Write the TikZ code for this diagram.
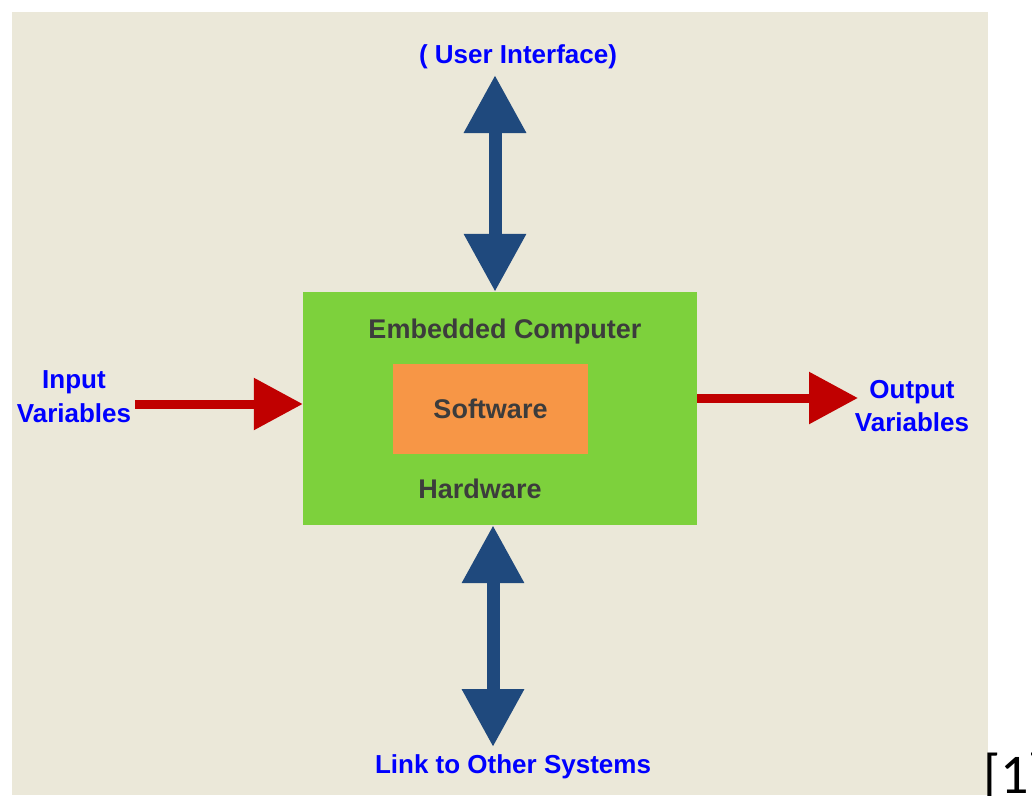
\documentclass[tikz,border=0pt]{standalone}
\usepackage{fontspec}
\setmainfont{Liberation Sans}
\newfontfamily\calfont{Carlito}
\usetikzlibrary{arrows.meta}
\definecolor{bgbeige}{RGB}{235,232,217}
\definecolor{hwgreen}{RGB}{125,209,60}
\definecolor{sworange}{RGB}{247,150,70}
\definecolor{arrowblue}{RGB}{31,73,125}
\definecolor{arrowred}{RGB}{192,0,0}
\definecolor{darktext}{RGB}{60,60,60}
\definecolor{labelblue}{RGB}{0,0,255}
\tikzset{
  bluearrow/.style={draw=arrowblue, line width=13pt,
    {Triangle[width=59pt,length=58pt]}-{Triangle[width=59pt,length=58pt]}},
  redarrow/.style={draw=arrowred, line width=9pt,
    -{Triangle[width=50pt,length=49pt]}},
  bluelabel/.style={text=labelblue, font=\fontsize{26}{34}\selectfont\bfseries, inner sep=0pt},
  graytext/.style={text=darktext, font=\fontsize{27}{32}\selectfont\bfseries, inner sep=0pt},
}
\begin{document}
\begin{tikzpicture}[x=1pt,y=-1pt]
\useasboundingbox (0,0) rectangle (1032,795);
\fill[bgbeige] (12,12) rectangle (988,795);
% boxes
\node[fill=hwgreen, minimum width=394pt, minimum height=233pt, inner sep=0pt] (hw) at (500,408.5) {};
\node[fill=sworange, minimum width=195pt, minimum height=90pt, inner sep=0pt,
      text=darktext, font=\fontsize{27}{32}\selectfont\bfseries] (sw) at (490.5,409) {Software};
\node[graytext, anchor=base] (ec) at (505,338) {Embedded Computer};
\node[graytext, anchor=base] (hwtext) at (480,498) {Hardware};
% labels
\node[bluelabel, anchor=base] (ui) at (518,63) {( User Interface)};
\node[bluelabel, anchor=base] (link) at (513,773) {Link to Other Systems};
\node[bluelabel, anchor=base, align=center] (inp) at (74,422) {Input\\Variables};
\node[bluelabel, anchor=base, align=center, font=\fontsize{26}{33}\selectfont\bfseries] (outp) at (912,431) {Output\\Variables};
\node[anchor=base west, inner sep=0pt, font=\calfont\fontsize{56}{66}\selectfont] (ref) at (983,793) {[1]};
% arrows
\coordinate (uitip) at (495,75);
\coordinate (linktip) at (493,747);
\coordinate (instart) at (135,404);
\coordinate (outend) at (858,398);
\draw[bluearrow] (uitip) -- (uitip |- hw.north);
\draw[bluearrow] (linktip |- hw.south) -- (linktip);
\draw[redarrow] (instart) -- (instart -| hw.west);
\draw[redarrow] (outend -| hw.east) -- (outend);
\end{tikzpicture}
\end{document}
